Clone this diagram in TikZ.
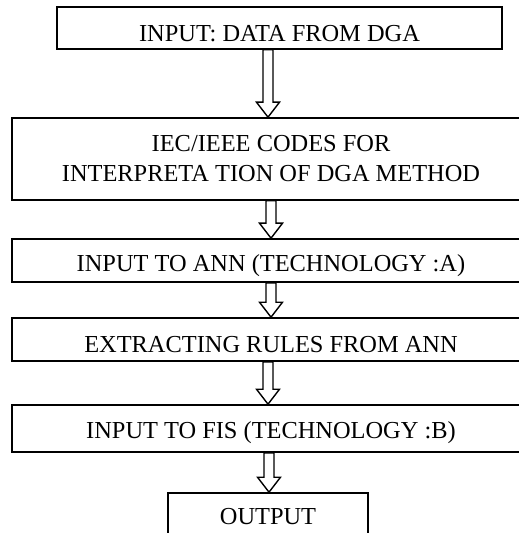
\documentclass[tikz,border=0pt]{standalone}
\usepackage{fontspec}
\setmainfont{Liberation Serif}
\usetikzlibrary{positioning, calc}

\tikzset{
  stage/.style={draw, line width=0.8pt, inner sep=0pt, text height=8.1pt, text depth=0pt,
    font=\fontsize{12.2}{15}\selectfont},
  fatarrow/.style={draw, line width=0.7pt, fill=white}
}
% hollow block arrow from the bottom of one box to the top of the next
\newcommand{\fatdown}[3]{%
  \draw[fatarrow] let \p1=(#1.south), \p2=(#2.north), \p3=(#3,0) in
    (\x3-2.5pt,\y1) -- (\x3-2.5pt,\y2+7.5pt) -- (\x3-5.75pt,\y2+7.5pt) -- (\x3,\y2)
    -- (\x3+5.75pt,\y2+7.5pt) -- (\x3+2.5pt,\y2+7.5pt) -- (\x3+2.5pt,\y1) -- cycle;
}

\begin{document}
\begin{tikzpicture}[x=0.5pt, y=-0.5pt]
\useasboundingbox (0,0) rectangle (518,533);
% flow of the DGA interpretation
\node[stage, minimum width=222.5pt, minimum height=21pt, text height=13.1pt] (in) at (279.5,28) {INPUT: DATA FROM DGA};
\node[stage, minimum width=259pt, minimum height=41pt, align=center, text height=, text depth=]
  (iec) at (271,159) {IEC/IEEE CODES FOR\\INTERPRETA TION OF DGA METHOD};
\node[stage, minimum width=259pt, minimum height=21.5pt, text height=10.6pt] (ann) at (271,260.5) {INPUT TO ANN (TECHNOLOGY :A)};
\node[stage, minimum width=259pt, minimum height=21.5pt, text height=12.6pt] (rules) at (271,339.5) {EXTRACTING RULES FROM ANN};
\node[stage, minimum width=259pt, minimum height=23.5pt, text height=9.6pt] (fis) at (271,428.5) {INPUT TO FIS (TECHNOLOGY :B)};
\node[stage, minimum width=100pt, minimum height=23pt] (out) at (268,516) {OUTPUT};

\foreach \a/\b/\ax in {in/iec/268, iec/ann/271, ann/rules/271, rules/fis/268, fis/out/269}
  \fatdown{\a}{\b}{\ax};
\end{tikzpicture}
\end{document}
